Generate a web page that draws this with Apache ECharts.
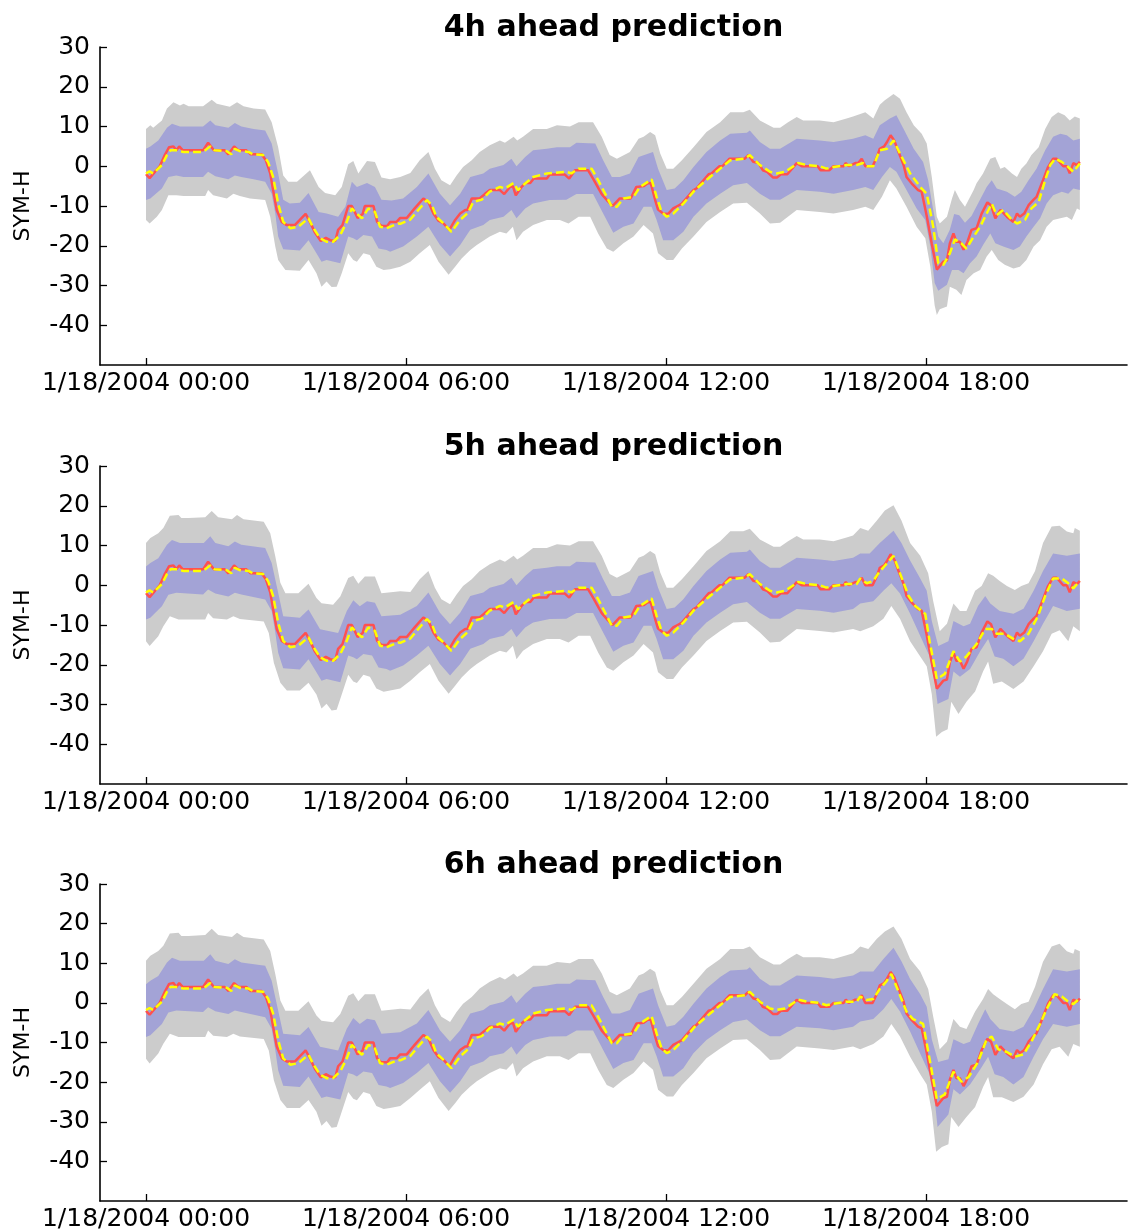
<!DOCTYPE html>
<html>
<head>
<meta charset="utf-8">
<script src="https://cdn.jsdelivr.net/npm/echarts@6/dist/echarts.min.js"></script>
<style>
  html, body { margin: 0; padding: 0; background: #fff; }
  #chart { width: 1133px; height: 1232px; }
</style>
</head>
<body>
<div id="chart"></div>
<script>
// time in minutes after 1/18/2004 00:00, values in nT
const titles = ['4h ahead prediction', '5h ahead prediction', '6h ahead prediction'];
const xTicks = [0, 360, 720, 1080];
const yTicks = [-40, -30, -20, -10, 0, 10, 20, 30];

// observed SYM-H (red), same in every panel
const obs = [[0,-2],[5,-3],[19,0],[26,2.8],[32,4.8],[38,5],[42,4],[46,5],[51,4],[79,4],[86,5.9],[94,4],[109,4],[114,3],[122,5],[128,4],[139,4],[145,3],[160,3],[166,1.5],[172,-1.8],[176,-6],[181,-11],[188,-14],[195,-14.8],[206,-14.8],[213,-13.5],[221,-12],[227,-14],[234,-16.7],[242,-18.8],[249,-18],[255,-18.6],[262,-18.8],[266,-16],[272,-14.8],[280,-10],[285,-10],[293,-13],[300,-12],[303,-10],[315,-10],[320,-14],[326,-15],[334,-15],[338,-14],[347,-14],[352,-13],[361,-13],[372,-10.6],[384,-8.1],[391,-9],[398,-11.9],[405,-13.7],[412,-14.4],[420,-16],[428,-13.5],[435,-11.9],[442,-11],[445,-11],[451,-8.1],[462,-8.1],[469,-7],[476,-6],[490,-6],[496,-7],[504,-5.2],[508,-5],[512,-7.3],[520,-5.2],[526,-4.2],[532,-4.2],[537,-3.1],[555,-3.1],[559,-2.1],[580,-2.1],[586,-3.1],[594,-1],[612,-1],[619,-3.1],[631,-7],[638,-8.5],[646,-10],[656,-8.1],[671,-8.1],[679,-5.2],[689,-5],[695,-4.2],[699,-4.3],[705,-8.5],[709,-10.9],[716,-11.9],[723,-12],[730,-10.6],[736,-10],[742,-9.4],[758,-6],[762,-5.6],[779,-2],[783,-1.8],[794,0],[798,0],[808,1.9],[829,1.9],[834,2.8],[841,1.1],[848,0.8],[854,-1],[860,-1.4],[868,-2.8],[874,-2.8],[879,-2],[888,-2],[901,0.8],[908,0],[930,0],[934,-1],[946,-1],[952,0],[966,0],[969,0.8],[973,0],[982,0.8],[986,0.8],[991,1.9],[996,0],[1006,0],[1012,2.3],[1016,4.4],[1022,5],[1026,6.1],[1031,7.8],[1036,6.5],[1042,3.6],[1049,0.3],[1053,-2.7],[1060,-4.3],[1069,-6],[1074,-6.4],[1081,-12.5],[1088,-19.5],[1095,-26],[1104,-24],[1109,-23.7],[1113,-19.4],[1118,-16.9],[1122,-19],[1127,-19],[1132,-21],[1137,-19.2],[1143,-16],[1150,-15.6],[1157,-11.9],[1165,-9.1],[1170,-9.8],[1176,-13.1],[1183,-11],[1192,-12.7],[1201,-14],[1206,-11.9],[1210,-12.7],[1216,-11.9],[1222,-9.8],[1229,-8.4],[1233,-7.7],[1242,-3.5],[1249,-0.2],[1256,1.9],[1261,1.9],[1270,0],[1275,0],[1279,-1.8],[1284,0.8],[1289,0.3],[1293,1.1]];

// ---- 4h ahead ----
const pred4h = [[0,-1.8],[5,-1.3],[10,-1.8],[22,0.3],[29,2.8],[34,4],[42,4],[52,3.6],[79,3.6],[89,5],[95,4],[112,3.8],[118,3],[123,4.4],[130,3.8],[142,3.6],[148,3],[162,2.8],[169,1.1],[176,-2.7],[183,-9.4],[190,-14],[200,-15.6],[211,-15.2],[225,-13.1],[232,-15.6],[241,-18.1],[250,-19],[259,-19],[269,-17.3],[278,-14],[285,-10.6],[292,-11.9],[299,-13.1],[308,-10.6],[317,-11.5],[324,-15.2],[333,-15.6],[349,-14.4],[352,-14.5],[366,-13.4],[377,-11],[389,-8.5],[396,-9.8],[402,-12.7],[412,-14.4],[423,-16.5],[435,-13.5],[446,-11.7],[453,-9],[465,-8.4],[476,-6.4],[490,-5.2],[497,-5.6],[509,-4.2],[515,-6],[522,-4.8],[536,-2.7],[555,-1.8],[582,-1.4],[589,-1.8],[599,-0.6],[617,-0.6],[626,-3.5],[638,-7.7],[645,-10.2],[652,-10.2],[661,-8.1],[675,-7.7],[684,-5.2],[700,-3.3],[707,-7.7],[714,-11.5],[721,-12.7],[730,-11.9],[744,-9.4],[760,-6],[781,-2.7],[809,1.5],[829,1.9],[836,2.8],[850,0.3],[864,-1.4],[873,-1.8],[885,-1.4],[903,0.8],[915,0.3],[933,0],[942,-0.6],[952,-0.2],[970,0.3],[984,0.3],[993,0.8],[998,0],[1007,0],[1016,4],[1026,4.4],[1035,6.5],[1044,3.2],[1058,-1.8],[1072,-5.2],[1081,-6.9],[1090,-15.2],[1097,-24.4],[1104,-24.8],[1113,-21.9],[1120,-18.4],[1129,-19.4],[1136,-20.7],[1146,-17.7],[1155,-15.2],[1164,-11.9],[1171,-9.4],[1178,-12.3],[1187,-11],[1199,-13.5],[1206,-14.4],[1217,-13.5],[1226,-10.6],[1236,-9],[1245,-3.5],[1252,0.3],[1259,1.9],[1268,1.1],[1277,-0.2],[1284,-1.4],[1293,0.7]];
const grayHi4h = [[0,9.4],[6,10.3],[10,9.7],[22,11.5],[29,14.5],[38,16.1],[47,15.3],[52,15.7],[59,15.1],[79,15.1],[91,16.7],[98,15.7],[116,15],[126,16.1],[135,15.1],[149,14.5],[165,14.3],[174,11.1],[183,4.8],[190,-2.3],[197,-3.9],[209,-3.9],[227,-1],[239,-5.2],[248,-6.7],[262,-7.3],[271,-5.2],[280,0.5],[287,1.3],[294,-1.8],[306,1.3],[317,1.1],[326,-2.8],[338,-3.3],[352,-2.7],[366,-1.7],[379,1.5],[391,3.6],[400,-0.6],[409,-3.5],[421,-4.8],[430,-2.3],[439,-0.2],[451,1.5],[462,3.6],[476,5.3],[490,6.5],[497,5.9],[509,7.4],[514,6.5],[522,7.4],[536,9.4],[555,9.4],[569,10.3],[587,10],[599,11.1],[619,11.1],[631,7.4],[642,2.8],[652,1.9],[670,3.6],[682,6.9],[689,7.4],[698,8.6],[705,7.8],[712,3.2],[721,-0.6],[730,-0.6],[742,1.5],[758,4.8],[776,8.6],[795,11.1],[809,13.6],[827,13.6],[836,14.2],[850,11.5],[869,9.7],[878,9.7],[889,11.1],[901,12.4],[910,11.5],[933,11.5],[952,11.1],[970,12],[979,12.5],[996,13.6],[1007,12],[1016,15.5],[1023,16.6],[1035,18.2],[1044,17],[1053,13.6],[1063,10.3],[1074,8.2],[1081,5.7],[1088,-2.7],[1095,-12.7],[1099,-14.4],[1109,-12.7],[1116,-8.1],[1120,-6],[1127,-8.5],[1134,-10.2],[1146,-6],[1150,-4.3],[1159,-1.8],[1169,1.9],[1176,2.3],[1183,-0.6],[1189,-0.2],[1199,-1.8],[1206,-2.7],[1212,-0.6],[1219,0.7],[1226,2.8],[1236,4.8],[1245,9.4],[1254,12.4],[1263,13.6],[1272,12.8],[1279,11.5],[1286,12.5],[1293,12]];
const grayLo4h = [[0,-13.5],[5,-14.4],[15,-12.7],[22,-11],[31,-7.3],[42,-7.3],[52,-7.5],[82,-7.5],[86,-6],[93,-7.3],[112,-8.1],[121,-6.9],[130,-7.5],[144,-8.1],[165,-8.5],[172,-12.7],[179,-20.2],[183,-23.6],[193,-26.1],[213,-26.3],[225,-23.6],[236,-26.9],[243,-30.3],[250,-29],[257,-30.4],[264,-30.3],[271,-26.9],[280,-21.9],[287,-23.6],[292,-24],[301,-21.9],[310,-22.3],[319,-25.3],[329,-26.1],[338,-25.9],[352,-25.3],[366,-24],[379,-21.9],[393,-19.8],[405,-24],[419,-27.3],[428,-25.3],[437,-23.2],[449,-21.1],[458,-19.8],[476,-17.7],[490,-16.5],[499,-16.9],[508,-15.2],[513,-18.6],[522,-16.5],[536,-14.8],[555,-13.5],[573,-13.5],[585,-14.4],[599,-12.7],[615,-12.7],[626,-16.9],[638,-20.7],[647,-21.5],[661,-19.4],[675,-17.7],[689,-14.8],[702,-16.9],[709,-21.9],[721,-23.6],[730,-23.6],[742,-20.7],[758,-17.7],[776,-14],[795,-11.5],[813,-9.4],[832,-9.2],[850,-11.9],[864,-14.4],[878,-14.2],[901,-11],[933,-11.5],[952,-11.9],[979,-11],[996,-10.2],[1007,-11],[1019,-7.7],[1030,-3.5],[1039,-5.6],[1053,-10.2],[1067,-15.2],[1079,-18.1],[1086,-25.3],[1092,-35],[1095,-37.4],[1099,-36],[1109,-35.3],[1113,-30.3],[1122,-31.1],[1129,-32.4],[1136,-28.6],[1146,-26.9],[1155,-26.1],[1164,-22.7],[1171,-21.1],[1180,-23.6],[1189,-24.8],[1201,-25.7],[1210,-25.3],[1219,-23.6],[1229,-20.2],[1238,-18.6],[1247,-15.2],[1256,-13.5],[1266,-13.1],[1275,-12.7],[1282,-13.5],[1289,-10.6],[1293,-11]];
const blueHi4h = [[0,4.4],[6,5],[17,6.5],[29,9.7],[36,10.7],[47,10],[79,10],[89,11.5],[96,10.3],[114,9.7],[123,10.9],[132,10],[149,9.4],[165,9],[174,5.7],[183,-1.8],[190,-8.4],[199,-9.4],[213,-9.2],[225,-6.7],[239,-11.5],[250,-11.9],[266,-12.7],[276,-10.2],[285,-3.9],[292,-5.2],[306,-4.2],[317,-5.2],[326,-8.4],[340,-8.6],[356,-8.1],[375,-5.2],[391,-1.8],[407,-6.9],[421,-9.8],[435,-6.9],[449,-2.7],[467,-1.8],[476,-0.6],[495,0.3],[506,1.9],[513,0],[525,2.3],[536,4],[555,4.4],[569,4.8],[587,4.8],[596,5.9],[622,5.7],[633,1.5],[645,-2.7],[656,-2.7],[670,-1.8],[682,2.3],[702,3.6],[709,-0.6],[721,-6],[732,-5.6],[744,-3.5],[758,-0.2],[776,3.6],[795,6.5],[809,8.2],[832,8.4],[836,9],[850,6.1],[864,4.4],[878,4.4],[901,6.9],[933,6.5],[952,6.1],[979,6.9],[996,7.8],[1007,6.9],[1016,10.3],[1030,12],[1039,12.8],[1049,9.4],[1063,4.4],[1076,1.1],[1083,-3.5],[1090,-11],[1097,-17.7],[1104,-19.4],[1113,-16],[1119,-12],[1126,-12.3],[1134,-14.2],[1143,-12.5],[1152,-9.4],[1164,-5.2],[1171,-3.5],[1178,-5.6],[1192,-6.4],[1203,-7.7],[1212,-6.4],[1222,-3.5],[1233,-0.6],[1245,4],[1256,7.4],[1266,8.2],[1275,7.8],[1284,6.5],[1293,6.9]];
const blueLo4h = [[0,-8.5],[6,-8.1],[22,-5.6],[31,-2.7],[42,-2.3],[52,-2.7],[79,-2.7],[86,-1.4],[96,-2.5],[114,-3.3],[123,-2.3],[132,-2.7],[149,-3.3],[165,-3.9],[174,-6.9],[179,-11.9],[183,-17.7],[190,-20.9],[213,-21.2],[225,-18.6],[236,-21.9],[243,-24],[250,-23.6],[269,-24.4],[280,-17.7],[287,-18.1],[292,-18.6],[301,-17.3],[313,-17.7],[322,-20.7],[333,-21.1],[338,-21.5],[356,-20.2],[375,-17.7],[391,-15.2],[407,-19.8],[421,-22.7],[435,-19.8],[449,-16],[467,-14.8],[476,-13.5],[495,-12.7],[506,-11],[513,-13.1],[525,-10.6],[536,-9.4],[559,-8.5],[582,-8.4],[596,-7],[619,-7],[633,-11.9],[647,-16.7],[661,-15.2],[675,-14.4],[689,-10.2],[700,-10.2],[707,-13.5],[716,-18.6],[730,-18.6],[744,-16.5],[758,-12.7],[776,-9.4],[795,-6.9],[813,-4.8],[832,-4.2],[850,-6.9],[864,-8.4],[878,-8.4],[901,-6],[933,-6.4],[952,-6.9],[979,-6],[996,-5.2],[1007,-6],[1019,-2.7],[1030,-0.2],[1039,-1.4],[1053,-6],[1067,-10.6],[1079,-13.5],[1086,-20.2],[1092,-29.4],[1097,-31.3],[1109,-29.8],[1116,-26.1],[1125,-26.1],[1132,-26.9],[1141,-24.4],[1150,-22.7],[1159,-19.8],[1169,-16.9],[1176,-19.4],[1187,-20.2],[1201,-21.1],[1210,-20.2],[1219,-17.7],[1229,-15.2],[1238,-13.1],[1247,-9.4],[1256,-7.3],[1268,-6.4],[1277,-6.9],[1284,-5.6],[1293,-6]];

// ---- 5h ahead ----
const pred5hLate = [[989,1.7],[998,0.5],[1007,1.1],[1014,3],[1023,4.9],[1035,7.4],[1044,3],[1056,-2.7],[1065,-5.2],[1079,-7.2],[1085,-14.1],[1095,-23.6],[1106,-22.3],[1118,-16.6],[1127,-19.2],[1136,-17.9],[1150,-14.8],[1162,-11],[1171,-11],[1178,-12.2],[1189,-12.2],[1201,-13.5],[1210,-14.1],[1222,-12.2],[1235,-7.8],[1245,-2.7],[1256,1.7],[1268,1.7],[1277,0.5],[1284,-0.8],[1293,1.1]];
const grayHi5h = [[0,10.6],[6,11.9],[17,13.1],[24,14.4],[33,17.5],[45,17.7],[49,16.9],[59,16.9],[82,17.1],[91,18.7],[100,17.1],[119,16.6],[126,17.7],[135,16.6],[163,16],[172,13.1],[179,7.3],[186,0.6],[193,-2],[211,-2],[225,0.4],[236,-3.2],[243,-4.5],[259,-4.9],[269,-2.8],[280,1.8],[287,2.4],[294,0.4],[303,2.2],[317,2.2],[326,-2],[352,-1.5],[366,-1.7],[379,1.5],[391,3.6],[400,-0.6],[409,-3.5],[421,-4.8],[430,-2.3],[439,-0.2],[451,1.5],[462,3.6],[476,5.3],[490,6.5],[497,5.9],[509,7.4],[514,6.5],[522,7.4],[536,9.4],[555,9.4],[569,10.3],[587,10],[599,11.1],[619,11.1],[631,7.4],[642,2.8],[652,1.9],[670,3.6],[682,6.9],[689,7.4],[698,8.6],[705,7.8],[712,3.2],[721,-0.6],[730,-0.6],[742,1.5],[758,4.8],[776,8.6],[795,11.1],[809,13.6],[827,13.6],[836,14.2],[850,11.5],[869,9.7],[878,9.7],[889,11.1],[901,12.4],[910,11.5],[933,11.5],[952,11.1],[970,12],[979,12.5],[989,14.4],[1000,13.7],[1012,16.3],[1023,18.8],[1035,20.1],[1046,16.3],[1058,10.6],[1072,7.4],[1083,3],[1090,-4],[1099,-11.6],[1109,-9.7],[1118,-4.6],[1127,-6.5],[1136,-6.5],[1148,-1.4],[1157,-0.2],[1166,3],[1173,2.4],[1182,1.1],[1192,-0.2],[1203,-1.2],[1212,-0.2],[1222,0.5],[1231,3.6],[1242,10.6],[1254,14.8],[1265,15],[1275,13.5],[1284,13.1],[1286,14.4],[1293,13.7]];
const grayLo5h = [[0,-14.1],[5,-15.3],[17,-12.8],[24,-10.3],[33,-7.8],[45,-8.6],[82,-8.6],[86,-7],[93,-8.3],[112,-8.6],[121,-7.8],[130,-8.5],[163,-9.1],[170,-12],[177,-19.5],[186,-24.5],[195,-26.5],[213,-26.5],[225,-24.5],[236,-27.5],[243,-31],[250,-29.8],[257,-31.5],[264,-31.3],[271,-27.5],[280,-22.5],[287,-24.2],[292,-24.6],[301,-22.5],[310,-23],[319,-26],[329,-26.8],[338,-26.5],[352,-26],[366,-24],[379,-21.9],[393,-19.8],[405,-24],[419,-27.3],[428,-25.3],[437,-23.2],[449,-21.1],[458,-19.8],[476,-17.7],[490,-16.5],[499,-16.9],[508,-15.2],[513,-18.6],[522,-16.5],[536,-14.8],[555,-13.5],[573,-13.5],[585,-14.4],[599,-12.7],[615,-12.7],[626,-16.9],[638,-20.7],[647,-21.5],[661,-19.4],[675,-17.7],[689,-14.8],[702,-16.9],[709,-21.9],[721,-23.6],[730,-23.6],[742,-20.7],[758,-17.7],[776,-14],[795,-11.5],[813,-9.4],[832,-9.2],[850,-11.9],[864,-14.4],[878,-14.2],[901,-11],[933,-11.5],[952,-11.9],[979,-11],[989,-11.6],[1007,-10.3],[1021,-8.4],[1032,-5.2],[1044,-8.4],[1058,-14.1],[1072,-17.9],[1081,-20.4],[1088,-27.4],[1094,-38.1],[1102,-36.9],[1110,-36.2],[1115,-29.3],[1125,-32.4],[1136,-29.3],[1148,-26.7],[1159,-21.7],[1166,-19.2],[1173,-24.8],[1185,-24.2],[1201,-26.1],[1215,-24.2],[1229,-20.4],[1242,-16.6],[1254,-12.2],[1265,-11.3],[1277,-14.1],[1284,-10.3],[1293,-11.6]];
const blueHi5h = [[0,4.7],[6,5.6],[17,6.8],[29,10.2],[36,11.4],[47,10.6],[80,10.6],[89,12.3],[96,10.6],[114,9.8],[123,11],[132,10.2],[165,9.4],[174,5.6],[183,-1.9],[190,-7.8],[213,-8.2],[225,-6.1],[241,-11.1],[266,-12],[278,-6.5],[287,-3.8],[296,-5.3],[306,-4],[317,-4.4],[326,-7.8],[352,-7.4],[375,-5.2],[391,-1.8],[407,-6.9],[421,-9.8],[435,-6.9],[449,-2.7],[467,-1.8],[476,-0.6],[495,0.3],[506,1.9],[513,0],[525,2.3],[536,4],[555,4.4],[569,4.8],[587,4.8],[596,5.9],[622,5.7],[633,1.5],[645,-2.7],[656,-2.7],[670,-1.8],[682,2.3],[702,3.6],[709,-0.6],[721,-6],[732,-5.6],[744,-3.5],[758,-0.2],[776,3.6],[795,6.5],[809,8.2],[832,8.4],[836,9],[850,6.1],[864,4.4],[878,4.4],[901,6.9],[933,6.5],[952,6.1],[979,6.9],[989,8],[1002,8],[1016,10.6],[1035,13.7],[1046,10.6],[1058,6.2],[1072,1.7],[1081,-1.4],[1088,-9],[1097,-15.3],[1111,-14.1],[1118,-9],[1132,-10.3],[1141,-9.7],[1152,-5.2],[1162,-2.7],[1169,-4.6],[1182,-6.5],[1201,-7.2],[1215,-5.9],[1229,-1.4],[1242,3.6],[1256,8],[1275,7.4],[1293,8]];
const blueLo5h = [[0,-8.6],[6,-8.2],[22,-5.3],[31,-2.4],[42,-1.9],[79,-2.3],[86,-1.1],[96,-2.1],[114,-2.8],[123,-1.9],[132,-2.3],[165,-3.6],[174,-6.5],[179,-11.9],[183,-17],[190,-20.9],[213,-21.2],[225,-18.6],[236,-21.9],[243,-24],[250,-23.6],[269,-24.4],[280,-17.7],[287,-18.1],[292,-18.6],[301,-17.3],[313,-17.7],[322,-20.7],[333,-21.1],[338,-21.5],[356,-20.2],[375,-17.7],[391,-15.2],[407,-19.8],[421,-22.7],[435,-19.8],[449,-16],[467,-14.8],[476,-13.5],[495,-12.7],[506,-11],[513,-13.1],[525,-10.6],[536,-9.4],[559,-8.5],[582,-8.4],[596,-7],[619,-7],[633,-11.9],[647,-16.7],[661,-15.2],[675,-14.4],[689,-10.2],[700,-10.2],[707,-13.5],[716,-18.6],[730,-18.6],[744,-16.5],[758,-12.7],[776,-9.4],[795,-6.9],[813,-4.8],[832,-4.2],[850,-6.9],[864,-8.4],[878,-8.4],[901,-6],[933,-6.4],[952,-6.9],[979,-6],[989,-4.6],[1007,-4],[1021,-1.4],[1032,0.5],[1044,-2.1],[1058,-7.2],[1074,-13.5],[1085,-17.9],[1092,-24.2],[1096,-29.9],[1111,-28.6],[1118,-21.7],[1127,-23],[1141,-21.1],[1155,-16.6],[1166,-13.5],[1175,-17.9],[1187,-18.5],[1201,-20.4],[1215,-18.5],[1229,-14.1],[1242,-9.7],[1256,-5.2],[1275,-6.5],[1293,-5.9]];

// ---- 6h ahead (same as 5h before ~16:25, read separately after) ----
const pred6hLate = [[989,1.6],[998,0.7],[1007,1],[1016,3.5],[1025,5.4],[1032,7.3],[1042,2.8],[1053,-2.2],[1062,-4.1],[1076,-5.3],[1085,-14.2],[1095,-24.3],[1106,-23.1],[1118,-17.4],[1129,-19.9],[1139,-18.7],[1152,-14.9],[1164,-9.2],[1171,-8.5],[1180,-11.7],[1192,-12.4],[1203,-13.6],[1215,-13],[1226,-9.8],[1238,-5.3],[1247,-1.6],[1258,2.2],[1268,1.6],[1277,0.3],[1284,-0.3],[1293,1.2]];
const grayHi6hLate = [[989,14.2],[1000,13.6],[1012,16.2],[1023,18],[1035,19.3],[1046,16.2],[1058,11.1],[1072,7.9],[1083,3.5],[1090,-3.5],[1099,-11.7],[1109,-9.8],[1118,-4.1],[1127,-6],[1136,-6.6],[1148,-2.2],[1159,1],[1166,3.5],[1173,2.2],[1182,1],[1192,-0.3],[1203,-1.6],[1212,-0.3],[1222,0.3],[1231,4.1],[1242,10.4],[1254,14.2],[1265,14.9],[1275,13],[1284,12.4],[1286,13.6],[1293,13]];
const grayLo6hLate = [[989,-11.7],[1007,-10.4],[1021,-8.5],[1032,-5.3],[1044,-8.5],[1058,-13.6],[1072,-18],[1081,-20.6],[1088,-27.5],[1094,-37.6],[1102,-36.4],[1111,-35.7],[1115,-28.8],[1125,-31.3],[1136,-28.8],[1148,-26.3],[1159,-21.2],[1166,-18.7],[1173,-23.8],[1185,-23.8],[1201,-25],[1215,-23.7],[1229,-20.6],[1242,-15.5],[1254,-11.7],[1265,-11.1],[1277,-13.6],[1284,-10.4],[1293,-11.1]];
const blueHi6hLate = [[989,7.9],[1007,7.9],[1021,11.1],[1035,13.9],[1046,10.5],[1058,6],[1072,2.2],[1081,-1],[1088,-9.2],[1097,-14.9],[1111,-14.2],[1118,-9.2],[1132,-10.4],[1141,-9.8],[1152,-5.3],[1162,-1.6],[1169,-4.1],[1182,-6.6],[1201,-7.2],[1215,-6],[1229,-1.6],[1242,3.5],[1256,8.5],[1275,7.9],[1293,8.5]];
const blueLo6hLate = [[989,-4.7],[1007,-4.1],[1021,-1.6],[1032,1],[1044,-2.2],[1058,-7.2],[1074,-13.6],[1085,-18],[1092,-24.3],[1096,-31.3],[1111,-28.2],[1118,-21.8],[1127,-23.1],[1141,-20.6],[1155,-16.8],[1166,-13.6],[1175,-18],[1187,-18.7],[1201,-20.6],[1215,-18.7],[1229,-13.6],[1242,-9.2],[1256,-5.3],[1275,-6],[1293,-5.3]];

function before(arr, t) { return arr.filter(function (p) { return p[0] < t; }); }
const CUT = 985;
const panels = [
  { pred: pred4h, grayHi: grayHi4h, grayLo: grayLo4h, blueHi: blueHi4h, blueLo: blueLo4h },
  { pred: before(pred4h, CUT).concat(pred5hLate), grayHi: grayHi5h, grayLo: grayLo5h, blueHi: blueHi5h, blueLo: blueLo5h },
  { pred: before(pred4h, CUT).concat(pred6hLate),
    grayHi: before(grayHi5h, CUT).concat(grayHi6hLate), grayLo: before(grayLo5h, CUT).concat(grayLo6hLate),
    blueHi: before(blueHi5h, CUT).concat(blueHi6hLate), blueLo: before(blueLo5h, CUT).concat(blueLo6hLate) }
];

const FONT = 'DejaVu Sans';
const tops = [47, 466, 884];
const titleTops = [8, 427, 845];

function band(hi, lo, color, i, z) {
  const pts = hi.concat(lo.slice().reverse());
  return {
    type: 'custom', xAxisIndex: i, yAxisIndex: i, z: z, silent: true,
    data: pts,
    renderItem: function (params, api) {
      if (params.dataIndex !== 0) return null;
      return {
        type: 'polygon',
        shape: { points: pts.map(function (p) { return api.coord(p); }) },
        style: { fill: color }
      };
    }
  };
}

const chart = echarts.init(document.getElementById('chart'), null, { renderer: 'canvas' });
const axisLine = { show: true, onZero: false, lineStyle: { color: '#000', width: 1.6 } };
const series = [];
panels.forEach(function (p, i) {
  series.push(band(p.grayHi, p.grayLo, '#cccccc', i, 1));
  series.push(band(p.blueHi, p.blueLo, '#a3a3d6', i, 2));
  series.push({
    type: 'line', xAxisIndex: i, yAxisIndex: i, data: obs, z: 3,
    showSymbol: false, symbol: 'none', silent: true,
    lineStyle: { color: '#ff5050', width: 2.5 }
  });
  series.push({
    type: 'line', xAxisIndex: i, yAxisIndex: i, data: p.pred, z: 4,
    showSymbol: false, symbol: 'none', silent: true,
    lineStyle: { color: '#ffff00', width: 2.5, type: [8, 4] }
  });
});

chart.setOption({
  animation: false,
  backgroundColor: '#fff',
  title: titles.map(function (t, i) {
    return {
      text: t, left: 608.5, top: titleTops[i], textAlign: 'center',
      textStyle: { fontFamily: FONT, fontSize: 30, fontWeight: 'bold', color: '#000' }
    };
  }),
  grid: tops.map(function (t) { return { left: 100, right: 6, top: t, height: 318 }; }),
  xAxis: tops.map(function (t, i) {
    return {
      type: 'value', gridIndex: i, min: -63.7, max: 1358.3,
      axisLine: axisLine,
      axisTick: { show: true, inside: true, length: 7, customValues: xTicks, lineStyle: { color: '#000', width: 1.3 } },
      axisLabel: {
        customValues: xTicks, margin: 6, fontSize: 25, fontFamily: FONT, color: '#000',
        formatter: function (v) {
          const h = Math.round(v / 60);
          return '1/18/2004 ' + (h < 10 ? '0' + h : h) + ':00';
        }
      },
      splitLine: { show: false }
    };
  }),
  yAxis: tops.map(function (t, i) {
    return {
      type: 'value', gridIndex: i, min: -50, max: 30,
      name: 'SYM-H', nameLocation: 'middle', nameGap: 66,
      nameTextStyle: { fontFamily: FONT, fontSize: 22, color: '#000' },
      axisLine: axisLine,
      axisTick: { show: true, inside: true, length: 7, customValues: yTicks, lineStyle: { color: '#000', width: 1.3 } },
      axisLabel: { customValues: yTicks, margin: 10, fontSize: 25, fontFamily: FONT, color: '#000' },
      splitLine: { show: false }
    };
  }),
  series: series
});
</script>
</body>
</html>
